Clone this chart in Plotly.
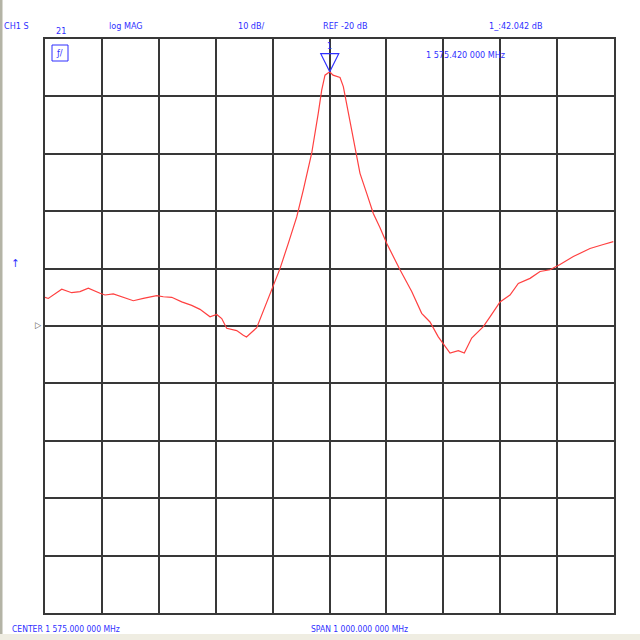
import plotly.graph_objects as go

# ---- data (frequency in MHz, magnitude in dB) ----
freq_mhz = [1075.0, 1080.8, 1104.4, 1121.9, 1136.5, 1151.1, 1171.7, 1180.5, 1195.0, 1212.6,
            1230.2, 1247.8, 1271.3, 1282.9, 1297.7, 1315.3, 1332.8, 1347.4, 1365.0, 1376.8,
            1385.6, 1394.3, 1411.9, 1423.5, 1429.1, 1447.1, 1461.7, 1476.2, 1488.0, 1502.6,
            1517.4, 1529.0, 1543.7, 1555.3, 1561.3, 1567.1, 1575.4, 1581.2, 1593.5, 1599.3,
            1608.1, 1622.8, 1628.6, 1640.4, 1652.0, 1663.8, 1675.5, 1698.9, 1719.5, 1737.0,
            1751.6, 1766.2, 1778.0, 1786.8, 1801.4, 1811.9, 1824.9, 1845.3, 1857.1, 1874.7,
            1892.2, 1906.8, 1927.4, 1945.0, 1962.5, 1980.1, 2003.5, 2032.8, 2056.2, 2073.8]
mag_db = [-15.0, -15.2, -13.6, -14.2, -14.0, -13.4, -14.3, -14.6, -14.4, -15.0,
          -15.6, -15.2, -14.7, -14.9, -15.0, -15.8, -16.4, -17.1, -18.4, -18.0,
          -18.7, -20.4, -20.8, -21.6, -21.9, -20.3, -16.6, -13.2, -10.0, -5.6,
          -1.0, 3.7, 10.1, 17.1, 21.1, 23.7, 24.3, 23.7, 23.3, 21.7,
          17.1, 10.1, 6.6, 3.1, -0.4, -2.9, -5.6, -10.2, -14.0, -17.8,
          -19.3, -21.9, -23.6, -24.7, -24.3, -24.7, -22.1, -20.1, -18.4, -15.8,
          -14.6, -12.6, -11.7, -10.5, -10.2, -9.3, -7.9, -6.5, -5.8, -5.3]

center_mhz = 1575.0
span_mhz = 1000.0
ref_db = -20.0
scale_db = 10.0
marker_freq = 1575.42
marker_db = 24.3

header_labels = ["CH1 S", "21", "log MAG", "10 dB/", "REF -20 dB", "1_:42.042 dB"]
marker_label = "1 575.420 000 MHz"
footer_labels = ["CENTER 1 575.000 000 MHz", "SPAN 1 000.000 000 MHz"]

BLUE = "#2f2fff"
GRID = "#383838"
FONT = "Liberation Sans Narrow, DejaVu Sans Condensed, Arial Narrow, Liberation Sans, Arial"

x0 = center_mhz - span_mhz / 2
x1 = center_mhz + span_mhz / 2
ytop = ref_db + 5 * scale_db
ybot = ref_db - 5 * scale_db

fig = go.Figure()
fig.add_trace(go.Scatter(x=freq_mhz, y=mag_db, mode="lines",
                         line=dict(color="#ff4040", width=1.2), hoverinfo="skip"))
# marker 1: arrow symbol with its tip on the peak
fig.add_trace(go.Scatter(x=[marker_freq], y=[marker_db], mode="markers",
                         marker=dict(symbol="arrow-down-open", size=18,
                                     line=dict(color=BLUE, width=1.2), color=BLUE),
                         cliponaxis=False, hoverinfo="skip"))

W, H = 640, 640
L, R, T, B = 45, 26, 39, 27
pw, ph = W - L - R, H - T - B


def px(x):
    return (x - L) / pw


def py(y):
    return (H - B - y) / ph


def label(text, x, y, xanchor="left", size=9, color=BLUE):
    fig.add_annotation(text=text, xref="paper", yref="paper", x=px(x), y=py(y),
                       xanchor=xanchor, yanchor="middle", showarrow=False,
                       font=dict(family=FONT, size=size, color=color))


label(header_labels[0], 2, 26)
label(header_labels[1], 54, 31)
label(header_labels[2], 107, 26)
label(header_labels[3], 236, 26)
label(header_labels[4], 321, 26)
label(header_labels[5], 487, 26)
label(marker_label, 424, 55)
label("1", 329, 46, xanchor="center")
label("ƒ/", 54, 53, size=9)
label("↑", 15, 263, xanchor="center", size=11)
label("▷", 38, 325, xanchor="center", size=9, color="#555555")
label(footer_labels[0], 10, 629, size=8.5)
label(footer_labels[1], 309, 629, size=8.5)

# small boxed icon near top-left
fig.add_shape(type="rect", xref="paper", yref="paper", x0=px(52), x1=px(68),
              y0=py(61), y1=py(45), line=dict(color=BLUE, width=1))

# window frame pieces
fig.add_shape(type="rect", xref="paper", yref="paper", x0=px(0), x1=px(2.5),
              y0=py(640), y1=py(0), line=dict(width=0), fillcolor="#b4b4a6")
fig.add_shape(type="rect", xref="paper", yref="paper", x0=px(0), x1=px(640),
              y0=py(640), y1=py(634), line=dict(width=0), fillcolor="#efede2")

fig.update_xaxes(range=[x0, x1], dtick=span_mhz / 10, tick0=x0, showgrid=True,
                 gridcolor=GRID, gridwidth=1.5, showticklabels=False, ticks="",
                 zeroline=False, showline=True, linecolor=GRID, linewidth=1.7, mirror=True,
                 fixedrange=True)
fig.update_yaxes(range=[ybot, ytop], dtick=scale_db, tick0=ybot, showgrid=True,
                 gridcolor=GRID, gridwidth=1.5, showticklabels=False, ticks="",
                 zeroline=False, showline=True, linecolor=GRID, linewidth=1.7, mirror=True,
                 fixedrange=True)

fig.update_layout(width=W, height=H, margin=dict(l=L, r=R, t=T, b=B, pad=0),
                  paper_bgcolor="white", plot_bgcolor="white", showlegend=False)

fig.write_html("out.html", config={"displayModeBar": False},
               post_script="document.body.style.margin='0';document.body.style.overflow='hidden';")
